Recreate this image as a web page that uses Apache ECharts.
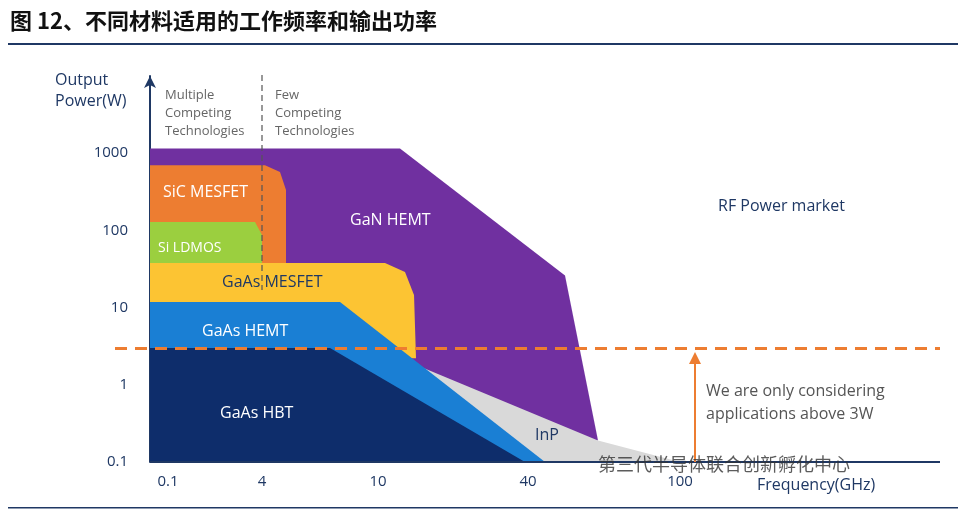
<!DOCTYPE html><html><head><meta charset="utf-8">
<script src="https://cdn.jsdelivr.net/npm/echarts@6/dist/echarts.min.js"></script>
<style>body{margin:0;background:#fff}#c{width:966px;height:512px}</style></head><body><div id="c"></div>
<script>
// x in plot units (non-uniform frequency scale), y in W (log)
const xTickPos = [18, 112, 228, 378, 530];
const xTickLabels = ['0.1', '4', '10', '40', '100'];
const yTicks = [0.1, 1, 10, 100, 1000];
const ganHemt = [[0,1150],[250,1150],[415,26],[448,0.19],[0,0.1]];
const inP = [[250,2.2],[448,0.19],[530,0.1],[390,0.1]];
const sicMesfet = [[0,700],[115,700],[130,571],[136,334],[136,12.5],[0,12.5]];
const siLdmos = [[0,128],[105,128],[112,87],[112,12.5],[0,12.5]];
const gaasMesfet = [[0,37.8],[235,37.8],[255,28.9],[264,14.6],[266,2.2],[0,2.2]];
const gaasHemt = [[0,11.8],[190,11.8],[395,0.1],[0,0.1]];
const gaasHbt = [[0,3],[180,3],[375,0.1],[0,0.1]];
const shapes = [
 {name:'GaN HEMT', pts:ganHemt, color:'#7030a0'},
 {name:'InP', pts:inP, color:'#d9d9d9'},
 {name:'SiC MESFET', pts:sicMesfet, color:'#ed7d31'},
 {name:'Si LDMOS', pts:siLdmos, color:'#9bcf3f'},
 {name:'GaAs MESFET', pts:gaasMesfet, color:'#fcc433'},
 {name:'GaAs HEMT', pts:gaasHemt, color:'#1a7fd4'},
 {name:'GaAs HBT', pts:gaasHbt, color:'#0e2d6b'}
];
const thresholdW = 3;
const chart = echarts.init(document.getElementById('c'));
const series = shapes.map(s => ({
  type:'custom', name:s.name, data:[0], silent:true,
  renderItem:(p, api) => ({type:'polygon', shape:{points:s.pts.map(q=>api.coord(q))}, style:{fill:s.color}})
}));
series.push({type:'line', data:[], markLine:{silent:true, symbol:'none', label:{show:false},
  lineStyle:{color:'#ed7d31', type:[12,8], width:3}, data:[[{coord:[-35,thresholdW]},{coord:[790,thresholdW]}]]}});
series.push({type:'line', data:[], z:5, markLine:{silent:true, symbol:'none', label:{show:false},
  lineStyle:{color:'#1f3864', type:'solid', width:2}, data:[[{coord:[0,0.1]},{coord:[790,0.1]}]]}});
const T = (x,y,text,o={}) => ({type:'text', z:100, left:x, top:y, style:Object.assign({text, fill:'#fff', font:'16px "Open Sans"'}, o)});
chart.setOption({
  animation:false,
  grid:{left:115, right:26, top:76, bottom:50},
  xAxis:{type:'value', min:-35, max:790, splitLine:{show:false},
    axisLine:{show:false},
    axisTick:{show:false},
    axisLabel:{customValues:xTickPos, formatter:v=>xTickLabels[xTickPos.indexOf(v)], color:'#1f3864', fontSize:15, margin:12, fontFamily:'Open Sans'}},
  yAxis:{type:'log', min:0.1, max:10000, offset:-35, splitLine:{show:false},
    axisLine:{show:true, symbol:['none','arrow'], symbolSize:[9,12], lineStyle:{color:'#1f3864', width:2}},
    axisTick:{show:false},
    axisLabel:{customValues:yTicks, formatter:v=>String(v), color:'#1f3864', fontSize:15, margin:22, fontFamily:'Open Sans'}},
  series,
  graphic:[
    T(10,10,'图 12、不同材料适用的工作频率和输出功率',{fill:'#111', font:'bold 22px "Noto Sans CJK SC"'}),
    {type:'rect', z:100, shape:{x:8,y:43,width:950,height:2}, style:{fill:'#1f3864'}},
    {type:'rect', z:100, shape:{x:8,y:507,width:950,height:1.5}, style:{fill:'#1f3864'}},
    T(55,70,'Output\nPower(W)',{fill:'#1f3864', font:'16px "Open Sans"', lineHeight:21}),
    T(165,86,'Multiple\nCompeting\nTechnologies',{fill:'#666', font:'13px "Open Sans"', lineHeight:18}),
    T(275,86,'Few\nCompeting\nTechnologies',{fill:'#666', font:'13px "Open Sans"', lineHeight:18}),
    {type:'line', z:100, shape:{x1:262,y1:75,x2:262,y2:290}, style:{stroke:'#555', lineDash:[6,4], lineWidth:1.2}},
    T(163,184,'SiC MESFET'), T(158,241,'Si LDMOS',{font:'14px "Open Sans"'}),
    T(350,212,'GaN HEMT'), T(222,274,'GaAs MESFET',{fill:'#1f3864'}),
    T(202,323,'GaAs HEMT'), T(220,405,'GaAs HBT'), T(535,427,'InP',{fill:'#1f3864'}),
    T(718,198,'RF Power market',{fill:'#1f3864'}),
    T(706,380,'We are only considering\napplications above 3W',{fill:'#555', lineHeight:23}),
    {type:'line', z:100, shape:{x1:695,y1:462,x2:695,y2:362}, style:{stroke:'#ed7d31', lineWidth:2}},
    {type:'polygon', z:100, shape:{points:[[689,364],[701,364],[695,352]]}, style:{fill:'#ed7d31'}},
    T(757,477,'Frequency(GHz)',{fill:'#1f3864'}),
    T(598,455,'第三代半导体联合创新孵化中心',{fill:'#333', font:'18px "Noto Sans CJK SC"', opacity:0.8})
  ]
});
</script></body></html>
